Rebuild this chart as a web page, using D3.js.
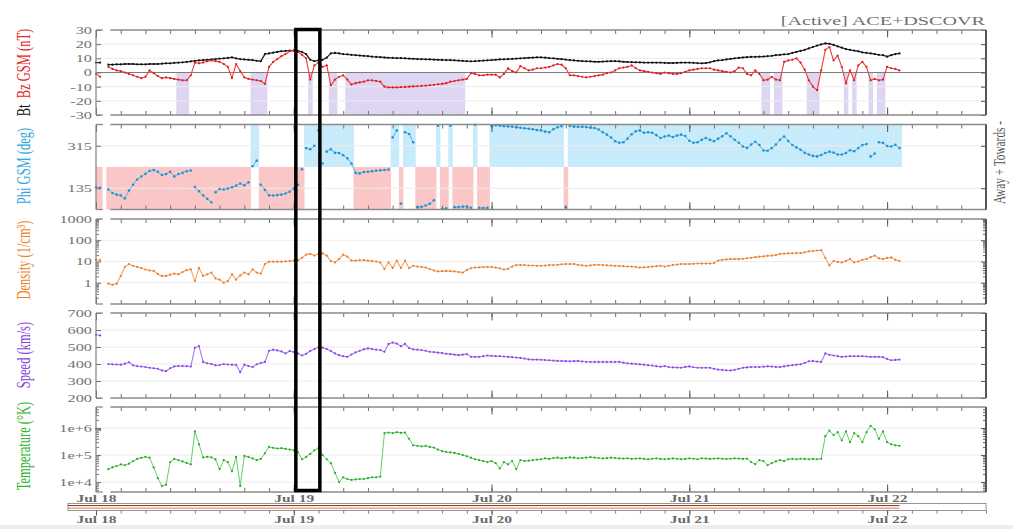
<!DOCTYPE html>
<html>
<head>
<meta charset="utf-8">
<script src="https://cdn.jsdelivr.net/npm/d3@7"></script>
<style>
  html, body { margin: 0; padding: 0; background: #ffffff; }
  svg { display: block; font-family: "Liberation Serif", "Times New Roman", serif; }
</style>
</head>
<body>
<svg id="chart" width="1013" height="529"></svg>
<script>
// ---- Solar wind, half-hour samples starting Jul 18 00:00 UT ----
const bt = [
  7, 7, null, 5.5, 5.5, 5.8, 5.8, 6, 6, 6,
  5.8, 5.8, 5.8, 6, 6, 6, 6.2, 6.5, 6.5, 6.8,
  7, 7.2, 7.5, 7.8, 8.2, 8.5, 8.8, 9, 9.2, 9.5,
  9.8, 10, 10.3, 10.7, 10, 9.5, 9.2, 9, 8.7, 8.3,
  8, 13, 13.5, 14, 14.5, 15, 15.2, 15.5, 15.5, 15.3,
  14.5, 13, 9, 8, 8.5, 9, 10.5, 13.5, 13.8, 13.5,
  13, 12.8, 12.5, 12.2, 12, 11.8, 11.5, 11.2, 11, 10.8,
  10.6, 10.4, 10.3, 10.2, 10.1, 10, 9.8, 9.7, 9.5, 9.4,
  9.3, 9.2, 9.1, 9, 8.9, 8.8, 8.8, 8.6, 8.4, 8.2,
  8, 7.9, 8, 8.2, 8.4, 8.6, 8.8, 9, 9.2, 9.3,
  9.5, 9.6, 9.8, 10, 10.2, 10.4, 10.5, 10.7, 10.7, 10.5,
  10.2, 10, 9.7, 9.4, 9.1, 8.8, 8.5, 8.3, 8.1, 7.9,
  7.8, 7.6, 7.6, 7.7, 7.9, 8, 8, 7.8, 7.6, 7.4,
  7.3, 7.2, 7.1, 7, 7, 7, 7, 7, 6.8, 6.7,
  6.7, 6.8, 7, 7, 7, 6.8, 6.6, 6.5, 6.7, 7.2,
  8, 8.5, 8.8, 9.2, 9.6, 10, 10.3, 10.6, 10.8, 11,
  11.1, 11.2, 11.3, 11.5, 11.8, 12.2, 12.5, 12.8, 13, 13.8,
  14.5, 15.2, 16, 17, 18, 19, 19.8, 20.5, 20.3, 19.5,
  18.5, 17.5, 16.5, 16, 15.5, 15, 14.2, 13.8, 13.5, 13,
  12.5, 12.2, 11.2, 12.2, 13, 13.5
];

const bz = [
  -1, -3, null, 4, 2.5, 1.5, 1, 0, -1, -2,
  -3, -4, -3, 1.5, -0.5, -2.5, -4, -3.5, -4, -4.5,
  -5, -5.5, -5.5, -2, 7, 6.5, 7, 8, 8.5, 8,
  7.5, 6, 4, -4, 6, 1, -3.5, -4.5, -5, -5.5,
  -6, -8, 4, 7.5, 9.5, 11.5, 13, 15, 15.5, 14.5,
  12.5, 10, -5, 5, 7, 4, 5, -9, -5, -3,
  -2, -5, -8.5, -7.5, -7, -6.5, -5.5, -5.5, -6, -6.5,
  -10, -10.5, -10.5, -10.5, -10.3, -10.2, -10, -9.8, -9.7, -9.5,
  -9.3, -9, -8.7, -8.3, -8, -7.5, -6.5, -6, -5.5, -5,
  -4.5, -0.5, -1, -2, -2, -1.5, -1.5, -1.5, -3.5, -1,
  3, 1, 0, 4.5, 3, 1.5, 2, 3, 3, 3.5,
  4, 5, 6, 5.5, 3, -2, -2, -2.5, -3, -3.5,
  -3, -2.5, -2, -1.5, -0.5, 0, 1.5, 3, 3.5, 4,
  5, 3, 1.5, 1, 0.5, 0, -0.5, -1, 0, -0.5,
  -1, -1, -0.5, 0.5, 1.5, 2, 2.5, 3, 3, 3,
  2, 1.5, 1, 0.5, 0, 1, 3.5, 3, -1, -2,
  1.5, -1, -5.5, -5, -3, -5, -5.5, 7.5, 8.5, 9,
  10, 7, 2, -5.5, -10, -12.5, 1.5, 16, 18, 8.5,
  12, 4, -7.5, 1.5, -5.5, 5, 7.5, 4, -5.5, -4.5,
  -5.5, -5, 4, 3, 2.5, 1.5
];

// IMF longitude, shown on a 45..405 deg span
const phi = [
  139, 137, null, 130, 115, 108, 105, 92, 125, 150,
  172, 185, 196, 208, 212, 205, 191, 195, 205, 185,
  195, 200, 207, 210, 140, 122, 105, 90, 76, 118,
  132, 130, 134, 139, 146, 155, 148, 160, 228, 252,
  150, 128, 105, 104, 106, 108, 113, 120, 134, 150,
  215, 305, 300, 315, 380, 240, 290, 300, 285, 284,
  275, 262, 240, 200, 198, 204, 205, 207, 209, 211,
  212, 214, 350, 380, 70, 372, 365, 330, 55, 56,
  62, 69, 84, 400, 48, 50, 400, 55, 55, 57,
  58, 52, 404, 52, 51, 52, 400, 402, 400, 398,
  397, 396, 393, 391, 389, 387, 385, 382, 380, 375,
  372, 385, 393, 398, 55, 399, 396, 395, 395, 394,
  391, 390, 384, 372, 362, 350, 334, 328, 330, 345,
  364, 376, 380, 370, 372, 370, 360, 348, 354, 358,
  352, 358, 362, 356, 336, 328, 330, 340, 348, 340,
  334, 345, 355, 368, 355, 340, 328, 312, 306, 320,
  332, 318, 295, 294, 305, 320, 340, 354, 335, 318,
  308, 298, 285, 278, 272, 270, 276, 284, 290, 286,
  278, 278, 284, 296, 292, 305, 318, 322, 270, 282,
  330, 327, 314, 312, 319, 305
];

const density = [
  12, 11.5, null, 0.9, 0.8, 0.9, 2.1, 5.5, 7.6, 6.3,
  5.5, 4.9, 4.2, 3.8, 3.6, 2.6, 2.1, 2.1, 2.4, 2.7,
  2.5, 3.2, 3.9, 4.3, 1.2, 5, 2.1, 2.5, 3, 1.6,
  1.4, 1, 1.2, 2.5, 1.4, 2.2, 3, 2.5, 4.3, 3,
  2.7, 7.6, 9.8, 9.8, 9.8, 9.8, 10.2, 10.5, 11, 11.5,
  15, 21, 23, 19, 23, 24, 19, 10.5, 9, 13,
  21, 17, 11, 11, 11.5, 11.5, 11, 10.5, 10, 9,
  4.4, 9, 5, 11, 5, 11, 4.8, 6.3, 5.8, 5.5,
  5.2, 4.4, 3.8, 3.4, 3.5, 3.6, 3.5, 3.4, 3.2, 3,
  4, 4.8, 5.2, 5.3, 5.5, 5.5, 5.5, 5.2, 4.8, 4.2,
  4.5, 5.8, 6.8, 6.8, 6.8, 6.5, 6.5, 6.3, 6.3, 6.5,
  6.8, 6.8, 7, 7.4, 7.6, 7.6, 7.6, 7, 6.6, 6.3,
  6.6, 7, 7, 6.8, 6.6, 6.5, 6.3, 6.1, 6, 5.8,
  5.8, 5.5, 5.2, 5.3, 5.5, 5.8, 6, 6.3, 5.8, 6.3,
  6.8, 7.2, 7.6, 7.6, 7.6, 7.8, 8, 8, 8, 8,
  8.5, 11, 12, 12.5, 13, 13, 13, 13.5, 14.2, 15,
  16, 17, 17.5, 18.5, 19, 20, 23, 23.5, 24, 24.5,
  25, 25, 27, 30, 31, 33, 34, 15, 6.5, 10.5,
  9.5, 9, 10.5, 13, 9, 10, 12, 13, 16, 19,
  14, 13, 14.8, 15.5, 12, 10.5
];

const speed = [
  572, 568, null, 400, 398, 397, 396, 402, 410, 392,
  387, 385, 382, 378, 375, 372, 362, 358, 375, 386,
  388, 388, 387, 385, 495, 505, 412, 404, 400, 392,
  394, 400, 397, 396, 395, 352, 396, 388, 382, 398,
  406, 412, 478, 484, 480, 474, 462, 476, 470, 462,
  450, 460, 476, 488, 498, 496, 488, 476, 462, 452,
  446, 442, 456, 468, 478, 486, 492, 488, 484, 482,
  472, 518, 526, 520, 505, 518, 494, 486, 484, 482,
  478, 472, 470, 467, 464, 460, 458, 455, 452, 455,
  458, 442, 442, 442, 446, 450, 448, 446, 446, 444,
  442, 440, 438, 436, 432, 427, 426, 426, 425, 423,
  422, 420, 418, 418, 417, 416, 417, 418, 415, 413,
  412, 412, 412, 412, 412, 412, 412, 412, 408, 404,
  402, 400, 398, 396, 393, 391, 387, 384, 388, 382,
  380, 379, 378, 383, 386, 381, 378, 378, 378, 378,
  372, 367, 365, 363, 362, 366, 372, 378, 380, 382,
  382, 382, 384, 386, 385, 383, 382, 386, 390, 393,
  396, 398, 406, 416, 418, 414, 412, 462, 454, 450,
  446, 442, 444, 446, 446, 446, 446, 444, 442, 442,
  442, 440, 430, 422, 424, 426
];

const temperature = [
  9.3e5, 8.5e5, null, 3.0e4, 3.5e4, 3.9e4, 4.5e4, 4.2e4, 4.8e4, 6.0e4,
  7.2e4, 7.9e4, 8.5e4, 8.0e4, 3.5e4, 1.4e4, 7.2e3, 8.0e3, 5.5e4, 7.2e4,
  6.5e4, 5.8e4, 5.1e4, 4.5e4, 7.5e5, 2.5e5, 8.2e4, 8.6e4, 8.3e4, 6.9e4,
  3.0e4, 6.5e4, 5.5e4, 2.5e4, 8.5e4, 7.2e3, 9.3e4, 8.5e4, 7.5e4, 6.5e4,
  7.2e4, 1.16e5, 2.0e5, 1.85e5, 1.75e5, 1.8e5, 1.7e5, 1.6e5, 1.5e5, 1.3e5,
  7.0e4, 8.5e4, 1.1e5, 1.5e5, 1.8e5, 1.0e5, 7.0e4, 5.0e4, 2.2e4, 1.0e4,
  1.5e4, 1.3e4, 1.2e4, 1.25e4, 1.3e4, 1.3e4, 1.4e4, 1.5e4, 1.5e4, 1.6e4,
  6.5e5, 6.8e5, 6.5e5, 7.0e5, 6.6e5, 6.8e5, 4.0e5, 2.3e5, 2.2e5, 2.1e5,
  2.2e5, 2.0e5, 1.9e5, 1.6e5, 1.4e5, 1.3e5, 1.25e5, 1.2e5, 1.1e5, 1.0e5,
  9.0e4, 8.0e4, 7.0e4, 6.5e4, 6.0e4, 5.5e4, 6.0e4, 5.0e4, 3.2e4, 5.5e4,
  4.5e4, 6.0e4, 3.0e4, 6.5e4, 6.0e4, 6.2e4, 6.5e4, 6.8e4, 7.0e4, 7.5e4,
  7.2e4, 7.8e4, 8.0e4, 7.5e4, 7.8e4, 8.2e4, 8.0e4, 7.6e4, 7.8e4, 8.0e4,
  8.4e4, 8.0e4, 7.8e4, 7.5e4, 7.7e4, 8.0e4, 7.8e4, 7.5e4, 7.4e4, 7.6e4,
  7.2e4, 7.4e4, 7.5e4, 7.2e4, 7.0e4, 7.3e4, 7.5e4, 7.2e4, 7.0e4, 7.2e4,
  7.5e4, 7.3e4, 7.0e4, 7.2e4, 7.5e4, 7.3e4, 7.0e4, 7.6e4, 7.4e4, 7.2e4,
  7.4e4, 7.5e4, 7.3e4, 7.1e4, 7.3e4, 7.6e4, 7.4e4, 7.2e4, 7.4e4, 5.5e4,
  4.6e4, 6.5e4, 6.0e4, 4.2e4, 5.0e4, 5.8e4, 6.5e4, 6.0e4, 7.0e4, 7.2e4,
  7.0e4, 7.3e4, 7.2e4, 7.0e4, 7.2e4, 7.0e4, 7.3e4, 5.0e5, 8.0e5, 5.5e5,
  7.0e5, 3.5e5, 7.5e5, 3.0e5, 6.5e5, 5.0e5, 3.0e5, 7.0e5, 1.2e6, 9.0e5,
  4.0e5, 7.5e5, 3.0e5, 2.5e5, 2.3e5, 2.2e5
];

// Axis ticks
const bTicks = [-30, -20, -10, 0, 10, 20, 30];
const phiTicks = [135, 315];
const densityTicks = [1, 10, 100, 1000];
const speedTicks = [200, 300, 400, 500, 600, 700];
const tempTicks = [1e4, 1e5, 1e6];
const tempTickLabels = ["1e+4", "1e+5", "1e+6"];
const dayLabels = ["Jul 18", "Jul 19", "Jul 20", "Jul 21", "Jul 22"];

// Event window outlined on all panels
const eventWindow = [Date.UTC(2024, 6, 19, 0, 15), Date.UTC(2024, 6, 19, 3, 10)];
const southwardLimit = -5;      // Bz (nT) below which the interval is shaded
const sectorSplit = 225;        // phi (deg) dividing away / towards

// ---- Layout ----
const SX = 1.55;                // horizontal glyph stretch of the figure
const L = 96, R = 986, PH = 85;
const t0 = Date.UTC(2024, 6, 18);
const STEP = 30 * 60 * 1000;
const times = bt.map((_, i) => new Date(t0 + i * STEP));
const lastTime = times[times.length - 1];

const svg = d3.select("#chart");
const x = d3.scaleUtc()
  .domain([new Date(t0), new Date(Date.UTC(2024, 6, 22, 12))])
  .range([L, R]);

const days = d3.utcDay.range(new Date(t0), new Date(Date.UTC(2024, 6, 22, 1)));
const hours3 = d3.utcHour.every(3).range(x.domain()[0], new Date(+x.domain()[1] + 1));
const gapStart = new Date(t0 + 50 * 60e3), gapEnd = new Date(t0 + 105 * 60e3);

function logMinors(lo, hi) {
  const out = [];
  for (let e = Math.floor(Math.log10(lo)); e <= Math.ceil(Math.log10(hi)); e++) {
    for (let m = 2; m <= 9; m++) {
      const v = m * Math.pow(10, e);
      if (v > lo && v < hi) out.push(v);
    }
  }
  return out;
}

const panels = [
  { top: 30,    y: d3.scaleLinear().domain([-30, 30]), ticks: bTicks, fmt: d => String(d) },
  { top: 124.5, y: d3.scaleLinear().domain([45, 405]), ticks: phiTicks, fmt: d => String(d) },
  { top: 219,   y: d3.scaleLog().domain([0.1, 1000]), ticks: densityTicks, fmt: d => String(d),
    minors: logMinors(0.1, 1000) },
  { top: 313,   y: d3.scaleLinear().domain([200, 700]), ticks: speedTicks, fmt: d => String(d) },
  { top: 407,   y: d3.scaleLog().domain([4300, 6.0e6]), ticks: tempTicks,
    fmt: d => tempTickLabels[tempTicks.indexOf(d)], minors: logMinors(4300, 6.0e6) }
];
panels.forEach(p => { p.bottom = p.top + PH; p.y.range([p.bottom, p.top]); });
const [pB, pPhi, pN, pV, pT] = panels;

const gBack = svg.append("g");
const gGrid = svg.append("g");
const gData = svg.append("g");
const gFrame = svg.append("g");

// ---- Backgrounds: southward Bz and sector polarity ----
function binSpan(i) {
  const a = Math.max(L, x(new Date(+times[i] - STEP / 2)));
  const b = x(new Date(+times[i] + STEP / 2));
  return [a, b];
}
bz.forEach((v, i) => {
  if (v == null || v > southwardLimit) return;
  const [a, b] = binSpan(i);
  gBack.append("rect")
    .attr("x", a).attr("width", b - a + 0.4)
    .attr("y", pB.y(0)).attr("height", pB.y(-30) - pB.y(0))
    .attr("fill", "#ddd5f2");
});
phi.forEach((v, i) => {
  if (v == null) return;
  const [a, b] = binSpan(i);
  const away = v >= sectorSplit;
  const lo = away ? sectorSplit : 45, hi = away ? 405 : sectorSplit;
  gBack.append("rect")
    .attr("x", a).attr("width", b - a + 0.4)
    .attr("y", pPhi.y(hi)).attr("height", pPhi.y(lo) - pPhi.y(hi))
    .attr("fill", away ? "#c7ebfa" : "#fac6c6");
});

// ---- Gridlines ----
panels.forEach(p => {
  p.ticks.forEach(v => {
    const yy = p.y(v);
    if (Math.abs(yy - p.top) < 1 || Math.abs(yy - p.bottom) < 1) return;
    gGrid.append("line")
      .attr("x1", L).attr("x2", R).attr("y1", yy).attr("y2", yy)
      .attr("stroke", v === 0 && p === pB ? "#7d7d7d" : "#ececec")
      .attr("stroke-width", 1);
  });
});

// ---- Data ----
function series(vals, p, lineColor, dotColor, lw) {
  const pts = vals.map((v, i) => ({ t: times[i], v }));
  const line = d3.line()
    .defined(d => d.v != null)
    .x(d => x(d.t)).y(d => p.y(d.v));
  gData.append("path")
    .attr("d", line(pts))
    .attr("fill", "none")
    .attr("stroke", lineColor)
    .attr("stroke-width", lw)
    .attr("stroke-linejoin", "round");
  gData.append("g").selectAll("circle")
    .data(pts.filter(d => d.v != null))
    .join("circle")
    .attr("cx", d => x(d.t)).attr("cy", d => p.y(d.v))
    .attr("r", 1.1).attr("fill", dotColor);
}
series(bt, pB, "#262626", "#111111", 1.3);
series(bz, pB, "#ee3b3b", "#d41f1f", 1.1);
series(density, pN, "#f4a463", "#ea7a2c", 1.1);
series(speed, pV, "#a877f0", "#8c46e2", 1.1);
series(temperature, pT, "#5fd35f", "#2aa62a", 1.0);

// phi: scattered points, joined only where the angle changes slowly
const phiPts = phi.map((v, i) => ({ t: times[i], v }));
for (let i = 1; i < phiPts.length; i++) {
  const a = phiPts[i - 1], b = phiPts[i];
  if (a.v == null || b.v == null || Math.abs(a.v - b.v) > 40) continue;
  gData.append("line")
    .attr("x1", x(a.t)).attr("y1", pPhi.y(a.v))
    .attr("x2", x(b.t)).attr("y2", pPhi.y(b.v))
    .attr("stroke", "#5bb6e6").attr("stroke-width", 1);
}
gData.append("g").selectAll("circle")
  .data(phiPts.filter(d => d.v != null))
  .join("circle")
  .attr("cx", d => x(d.t)).attr("cy", d => pPhi.y(d.v))
  .attr("r", 1.3).attr("fill", "#2193d2");

// ---- Frames, ticks, axes ----
function styleAxis(g, color) {
  g.select(".domain").remove();
  g.selectAll("line").attr("stroke", color);
  g.attr("font-family", null).attr("font-size", null);
}
function stretchText(sel, dx, fontSize, fill) {
  sel.each(function () {
    const t = d3.select(this);
    const xx = +t.attr("x") || 0;
    t.attr("x", 0)
      .attr("transform", `translate(${xx + (dx || 0)},0) scale(${SX},1)`)
      .attr("font-size", fontSize)
      .attr("fill", fill);
  });
}

panels.forEach(p => {
  // time ticks on top and bottom edges, pointing inward
  [[d3.axisTop, p.top], [d3.axisBottom, p.bottom]].forEach(([axisFn, yy]) => {
    gFrame.append("g").attr("transform", `translate(0,${yy})`)
      .call(axisFn(x).tickValues(hours3).tickSize(-4).tickFormat(""))
      .call(g => styleAxis(g, "#6e6e6e"));
    gFrame.append("g").attr("transform", `translate(0,${yy})`)
      .call(axisFn(x).tickValues(days).tickSize(-7.5).tickFormat(""))
      .call(g => styleAxis(g, "#555555"));
  });

  // left axis with labels
  const left = gFrame.append("g").attr("transform", `translate(${L},0)`)
    .call(d3.axisLeft(p.y).tickValues(p.ticks).tickSize(-5).tickPadding(4).tickFormat(p.fmt))
    .call(g => styleAxis(g, "#6e6e6e"));
  stretchText(left.selectAll("text"), 0, 10.5, "#707070");

  // right axis, ticks only
  gFrame.append("g").attr("transform", `translate(${R},0)`)
    .call(d3.axisRight(p.y).tickValues(p.ticks).tickSize(-5).tickFormat(""))
    .call(g => styleAxis(g, "#555555"));

  if (p.minors) {
    gFrame.append("g").attr("transform", `translate(${L},0)`)
      .call(d3.axisLeft(p.y).tickValues(p.minors).tickSize(-3).tickFormat(""))
      .call(g => styleAxis(g, "#7a7a7a"));
    gFrame.append("g").attr("transform", `translate(${R},0)`)
      .call(d3.axisRight(p.y).tickValues(p.minors).tickSize(-3).tickFormat(""))
      .call(g => styleAxis(g, "#666666"));
  }

  // panel edges
  [p.top, p.bottom].forEach(yy => {
    [[x.domain()[0], gapStart], [gapEnd, x.domain()[1]]].forEach(([a, b]) => {
      gFrame.append("line")
        .attr("x1", x(a)).attr("x2", x(b)).attr("y1", yy).attr("y2", yy)
        .attr("stroke", "#8a8a8a").attr("stroke-width", 1.3);
    });
  });
  gFrame.append("line").attr("x1", L).attr("x2", L).attr("y1", p.top).attr("y2", p.bottom)
    .attr("stroke", "#8a8a8a").attr("stroke-width", 1.3);
  gFrame.append("line").attr("x1", R).attr("x2", R).attr("y1", p.top).attr("y2", p.bottom)
    .attr("stroke", "#555555").attr("stroke-width", 2);
});

// day labels
const dayFmt = d => dayLabels[days.findIndex(dd => +dd === +d)];
function dayAxis(yy, baseline) {
  const g = gFrame.append("g").attr("transform", `translate(0,${yy})`)
    .call(d3.axisBottom(x).tickValues(days).tickSize(0).tickFormat(dayFmt))
    .call(g => styleAxis(g, "none"));
  g.selectAll("text").each(function () {
    d3.select(this).attr("y", 0).attr("dy", 0)
      .attr("transform", `translate(0,${baseline}) scale(${SX},1)`)
      .attr("font-size", 10).attr("font-weight", "bold").attr("fill", "#6a6a6a");
  });
}

// ---- Overview strip: data coverage of both spacecraft ----
const overviewStart = new Date(t0 - 3.4 * 3600e3);
const stripTop = 503.5, stripBottom = 510.5;
const coverage = [
  { name: "ACE", from: overviewStart, to: lastTime, color: "#8e2e1a", y: 505.6 },
  { name: "DSCOVR", from: overviewStart, to: lastTime, color: "#d9804e", y: 508.2 }
];
gFrame.append("rect")
  .attr("x", x(overviewStart)).attr("y", stripTop)
  .attr("width", R - x(overviewStart)).attr("height", stripBottom - stripTop)
  .attr("fill", "#ffffff").attr("stroke", "#8a8a8a").attr("stroke-width", 0.9);
coverage.forEach(c => {
  gFrame.append("line")
    .attr("x1", x(c.from)).attr("x2", x(c.to)).attr("y1", c.y).attr("y2", c.y)
    .attr("stroke", c.color).attr("stroke-width", 1);
});
gFrame.append("g").attr("transform", `translate(0,${stripBottom})`)
  .call(d3.axisBottom(x).tickValues(hours3).tickSize(3).tickFormat(""))
  .call(g => styleAxis(g, "#7a7a7a"));
gFrame.append("g").attr("transform", `translate(0,${stripBottom})`)
  .call(d3.axisBottom(x).tickValues(days).tickSize(5).tickFormat(""))
  .call(g => styleAxis(g, "#555555"));
dayAxis(pT.bottom, 10);
dayAxis(stripBottom, 12.5);

svg.append("rect").attr("x", 0).attr("y", 525).attr("width", 1013).attr("height", 4)
  .attr("fill", "#eeeeee");

// ---- Event window ----
svg.append("rect")
  .attr("x", x(new Date(eventWindow[0]))).attr("y", 29.5)
  .attr("width", x(new Date(eventWindow[1])) - x(new Date(eventWindow[0])))
  .attr("height", 490.5 - 29.5)
  .attr("fill", "none").attr("stroke", "#000").attr("stroke-width", 3.5);

// ---- Titles and axis names ----
svg.append("text")
  .attr("transform", `translate(985,25) scale(${SX},1)`)
  .attr("text-anchor", "end").attr("font-size", 13).attr("fill", "#707070")
  .text("[Active] ACE+DSCOVR");

function sideLabel(cx, cy, size, parts) {
  const t = svg.append("text")
    .attr("transform", `translate(${cx},${cy}) scale(${SX},1) rotate(-90)`)
    .attr("text-anchor", "middle").attr("font-size", size);
  parts.forEach(([str, color]) => t.append("tspan").attr("fill", color).text(str));
}
sideLabel(30, 72.5, 12.5, [["Bt", "#111111"], ["\u00a0\u00a0", "#111"], ["Bz GSM (nT)", "#e42424"]]);
sideLabel(30, 166, 12.5, [["Phi GSM (deg)", "#2ea6de"]]);
sideLabel(30, 260, 12.5, [["Density (1/cm\u00b3)", "#f0821e"]]);
sideLabel(30, 355, 12.5, [["Speed (km/s)", "#8a45e0"]]);
sideLabel(30, 446, 12.5, [["Temperature (\u00b0K)", "#2fb52f"]]);
sideLabel(1005, 162.5, 11.3, [["Away + Towards -", "#555555"]]);
</script>
</body>
</html>
